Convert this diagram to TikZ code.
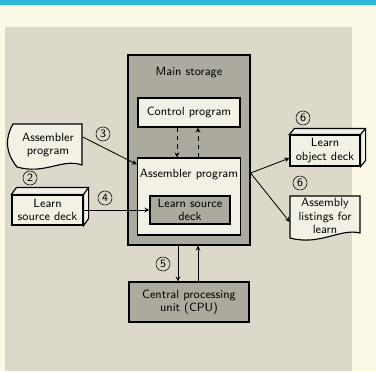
\documentclass[tikz,border=0pt]{standalone}
\usepackage{tikz}
\usetikzlibrary{arrows,positioning}
\definecolor{cream}{HTML}{FBF9E6}
\definecolor{bar}{HTML}{2AB6D6}
\definecolor{screen}{HTML}{DCD9CA}
\definecolor{screendark}{HTML}{ACA99F}
\definecolor{paper}{HTML}{F3F1E6}

\begin{document}
\begin{tikzpicture}[x=0.25mm,y=-0.25mm,
  box/.style={draw, thick, fill=paper, font={\sffamily\fontsize{8.5}{9.5}\selectfont}, align=center, inner sep=0pt},
  grey/.style={draw, thick, fill=screendark, font={\sffamily\fontsize{8.5}{9.5}\selectfont}, align=center, inner sep=0pt},
  lbl/.style={font={\sffamily\fontsize{8.5}{9.5}\selectfont}, align=center, inner sep=0pt},
  num/.style={draw, circle, minimum size=3.5mm, inner sep=0pt, font=\sffamily\footnotesize},
  link/.style={->, >=stealth, semithick}]

  \useasboundingbox (0,0) rectangle (376,371);
  \fill[cream] (0,0) rectangle (376,371);
  \fill[bar] (0,0) rectangle (376,5);
  \fill[screen] (5,27) rectangle (352,371);

  % main storage and CPU
  \node[grey, minimum width=30.5mm, minimum height=47.5mm] (mem) at (189,150) {};
  \node[lbl] (memlbl) at (189,73) {Main storage};
  \node[box, minimum width=25.5mm, minimum height=7.25mm] (ctrl) at (189,112.5) {Control program};
  \node[box, minimum width=25.75mm, minimum height=19.25mm] (asm) at (189,196.5) {};
  \node[lbl] (asmlbl) at (189,175) {Assembler program};
  \node[grey, minimum width=20mm, minimum height=7mm] (lsdin) at (190,210) {Learn source\\deck};
  \node[grey, minimum width=30mm, minimum height=10mm] (cpu) at (189,302) {Central processing\\unit (CPU)};

  \draw[link, dashed] ([xshift=-3mm]ctrl.south) -- ([xshift=-3mm]asm.north);
  \draw[link, dashed] ([xshift=2.25mm]asm.north) -- ([xshift=2.25mm]ctrl.south);
  \draw[link] ([xshift=-2.75mm]mem.south) -- ([xshift=-2.75mm]cpu.north);
  \draw[link] ([xshift=2.25mm]cpu.north) -- ([xshift=2.25mm]mem.south);

  % inputs
  \draw[thick, fill=paper] (13,124) -- (82,124) -- (82,165) .. controls (62,158) and (45,175) .. (17,167) .. controls (5,152) and (5,138) .. cycle;
  \node[lbl, minimum width=17.25mm, minimum height=10mm] (asmsrc) at (48,145) {Assembler\\program};

  \node[box, minimum width=17.75mm, minimum height=7.5mm] (lsd) at (47.5,210) {Learn\\source deck};
  \draw[thick, fill=paper] (lsd.north west) -- ([shift={(5,-7)}]lsd.north west) -- ([shift={(5,-7)}]lsd.north east)
    -- ([shift={(5,-7)}]lsd.south east) -- (lsd.south east) -- (lsd.north east) -- cycle;
  \draw[thick] (lsd.north east) -- ([shift={(5,-7)}]lsd.north east);

  \draw[link] ([yshift=2mm]asmsrc.east) -- ([yshift=-1.75mm]asm.north west);
  \draw[link] (lsd.east) -- (lsdin.west);

  % outputs
  \node[box, minimum width=17.5mm, minimum height=7.75mm] (lod) at (325,150.5) {Learn\\object deck};
  \draw[thick, fill=paper] (lod.north west) -- ([shift={(5,-6)}]lod.north west) -- ([shift={(5,-6)}]lod.north east)
    -- ([shift={(5,-6)}]lod.south east) -- (lod.south east) -- (lod.north east) -- cycle;
  \draw[thick] (lod.north east) -- ([shift={(5,-6)}]lod.north east);

  \draw[thick, fill=paper] (290,196) -- (360,196) -- (360,233) .. controls (340,228) and (320,246) .. (290,238) -- cycle;
  \node[lbl, minimum width=17.5mm, minimum height=10.5mm] (lst) at (325,216) {Assembly\\listings for\\learn};

  \coordinate (fork) at ([yshift=-5.75mm]mem.east);
  \draw[link] (fork) -- ([yshift=-1.9mm]lod.west);
  \draw[link] (fork) -- ([yshift=-1.5mm]lst.west);

  % step numbers
  \node[num] (n2) at (30,178) {2};
  \node[num] (n3) at (103,134) {3};
  \node[num] (n4) at (105,198) {4};
  \node[num] (n5) at (163,264) {5};
  \node[num] (n6a) at (303,118) {6};
  \node[num] (n6b) at (300,183) {6};

\end{tikzpicture}
\end{document}
